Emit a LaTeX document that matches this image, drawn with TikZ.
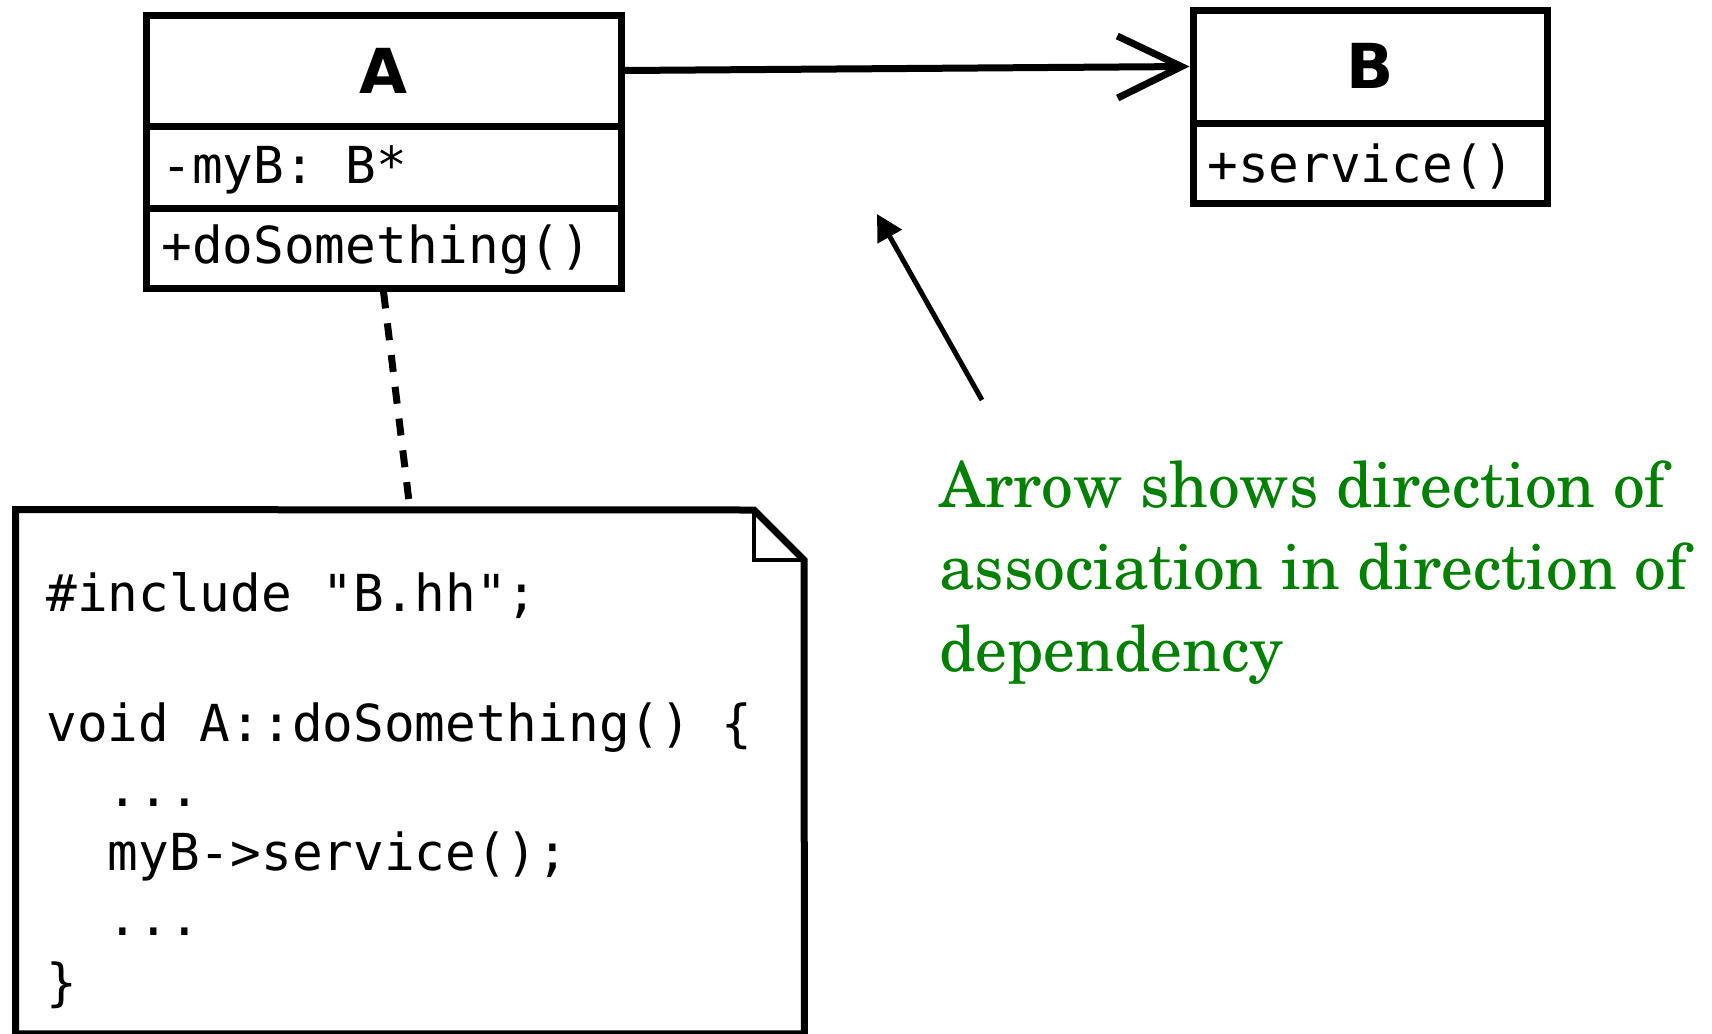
\documentclass[tikz,border=0pt]{standalone}
\usepackage[T1]{fontenc}
\usepackage{fontspec}
\setmonofont{DejaVu Sans Mono}
\newfontfamily\djsans{DejaVu Sans}
\usetikzlibrary{arrows.meta}
\definecolor{notegreen}{RGB}{0,128,0}
\begin{document}
\begin{tikzpicture}[x=0.5pt,y=-0.5pt,
  box/.style={draw, line width=3.5pt, inner sep=0pt},
  mono/.style={font=\fontsize{25.5pt}{32.5pt}\selectfont\ttfamily, inner sep=0pt, anchor=base west},
  cname/.style={font=\fontsize{31pt}{36pt}\selectfont\djsans\bfseries, inner sep=0pt, anchor=base},
  green/.style={text=notegreen, inner sep=0pt, anchor=base west,
    font=\fontencoding{T1}\fontfamily{pnc}\fontsize{31.7pt}{41pt}\selectfont},
  thick line/.style={line width=3.5pt}]
\useasboundingbox (0,0) rectangle (1712,1033);

% class A
\node[box, minimum width=237.5pt, minimum height=55.5pt] (Aname) at (383.5,70.5) {};
\node[box, minimum width=237.5pt, minimum height=41pt] (Aattr) at (383.5,167) {};
\node[box, minimum width=237.5pt, minimum height=40pt] (Aop) at (383.5,248) {};
\node[cname] (tA) at (383.5,93) {A};
\node[mono] (tAattr) at (161,183) {-myB:~B*};
\node[mono] (tAop) at (161,263) {+doSomething()};

% class B
\node[box, minimum width=177pt, minimum height=56.5pt] (Bname) at (1370,66.5) {};
\node[box, minimum width=177pt, minimum height=40pt] (Bop) at (1370,163) {};
\node[cname] (tB) at (1370,88) {B};
\node[mono] (tBop) at (1207,182) {+service()};

% association
\draw[thick line, -{Straight Barb[length=32pt,width=31pt,line width=3.5pt]}] (Aname.east) -- (Bname.west);

% note
\node[inner sep=0pt, minimum width=394pt, minimum height=261.75pt] (note) at (410,771.75) {};
\coordinate (fold) at (754,510);
\coordinate (foldb) at (804,560);
\draw[thick line, line join=miter] (note.south west) -- (note.north west) -- (fold) -- (foldb) -- (note.south east) -- cycle;
\draw[line width=2pt] (fold) -- (fold |- foldb) -- (foldb);

\draw[thick line, dash pattern=on 8.5pt off 7.5pt] (Aop.south) -- (note.north);

\node[mono] (n1) at (46,611) {\#include "B.hh";};
\node[mono] (n2) at (46,741) {void A::doSomething() \{};
\node[mono] (n3) at (46,806) {~~...};
\node[mono] (n4) at (46,870) {~~myB->service();};
\node[mono] (n5) at (46,935) {~~...};
\node[mono] (n6) at (46,1000) {\}};

% annotation
\coordinate (tail) at (982,400);
\coordinate (tip) at (877,214);
\draw[line width=2.5pt, -{Triangle[length=13pt,width=13.5pt]}] (tail) -- (tip);

\node[green] (g1) at (939,507) {Arrow shows direction of};
\node[green] (g2) at (939,589) {association in direction of};
\node[green] (g3) at (939,671) {dependency};
\end{tikzpicture}
\end{document}
